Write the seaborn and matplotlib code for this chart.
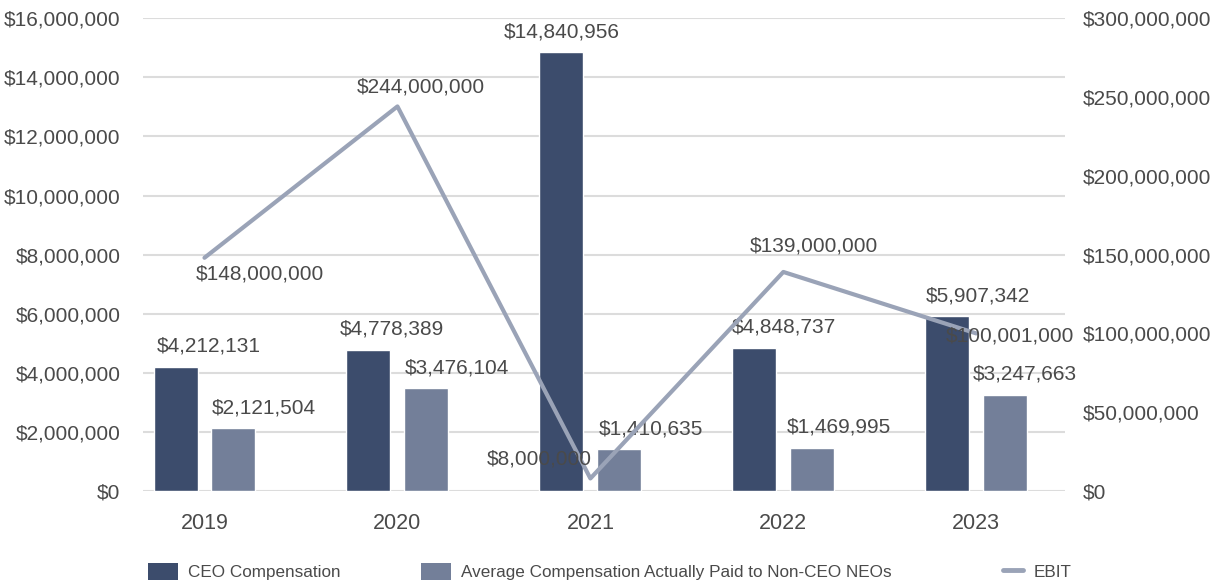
import matplotlib
matplotlib.use("Agg")
import matplotlib.pyplot as plt
import seaborn as sns
import pandas as pd
from matplotlib.patches import Patch
from matplotlib.lines import Line2D
from matplotlib.ticker import FuncFormatter

years = ["2019", "2020", "2021", "2022", "2023"]
ceo_comp = [4212131, 4778389, 14840956, 4848737, 5907342]
neo_comp = [2121504, 3476104, 1410635, 1469995, 3247663]
ebit = [148000000, 244000000, 8000000, 139000000, 100001000]
series_names = ["CEO Compensation", "Average Compensation Actually Paid to Non-CEO NEOs", "EBIT"]

c_ceo = "#3C4C6C"
c_neo = "#737F99"
c_line = "#9AA3B7"
txt = "#4a4a4a"
fs = 15

sns.set_theme(style="white")
plt.rcParams["font.family"] = ["Liberation Sans", "DejaVu Sans"]

df = pd.DataFrame({
    "year": years * 2,
    "value": ceo_comp + neo_comp,
    "series": [series_names[0]] * 5 + [series_names[1]] * 5,
})

fig = plt.figure(figsize=(12.2, 5.86), dpi=100)
ax = fig.add_axes([0.117, 0.162, 0.756, 0.807])
sns.barplot(data=df, x="year", y="value", hue="series", palette=[c_ceo, c_neo],
            width=0.6, gap=0.24, ax=ax, legend=False, saturation=1, errorbar=None)
ax.set_xlim(-0.32, 4.46)
ax.set_ylim(0, 16000000)
ax.set_yticks(range(0, 16000001, 2000000))
ax.yaxis.set_major_formatter(FuncFormatter(lambda v, p: f"${v:,.0f}"))
ax.grid(axis="y", color="#dcdcdc", linewidth=1.5)
ax.set_axisbelow(True)
for s in ax.spines.values():
    s.set_visible(False)
ax.tick_params(axis="both", length=0, labelsize=fs, colors=txt)
ax.tick_params(axis="y", pad=16)
ax.tick_params(axis="x", pad=16, labelsize=15.5)
ax.set_xlabel("")
ax.set_ylabel("")

ax2 = ax.twinx()
sns.lineplot(x=list(range(5)), y=ebit, ax=ax2, color=c_line, linewidth=3, legend=False)
ax2.set_ylim(0, 300000000)
ax2.set_yticks(range(0, 300000001, 50000000))
ax2.yaxis.set_major_formatter(FuncFormatter(lambda v, p: f"${v:,.0f}"))
for s in ax2.spines.values():
    s.set_visible(False)
ax2.tick_params(axis="y", length=0, labelsize=fs, colors=txt, pad=13)
ax2.grid(False)
ax2.set_xlim(-0.32, 4.46)

# bar labels
ceo_dx = [24, 17, 0, 21, 22]
neo_dx = [22, 22, 23, 19, 14]
for i in range(5):
    ax.annotate(f"${ceo_comp[i]:,}", (i - 0.15, ceo_comp[i]), xytext=(ceo_dx[i], 8),
                textcoords="offset points", ha="center", va="bottom", fontsize=fs, color=txt)
    ax.annotate(f"${neo_comp[i]:,}", (i + 0.15, neo_comp[i]), xytext=(neo_dx[i], 8),
                textcoords="offset points", ha="center", va="bottom", fontsize=fs, color=txt)

# line labels
ebit_off = [(40, -12), (17, 14), (-37, 14), (22, 19), (24, -2)]
for i in range(5):
    dx, dy = ebit_off[i]
    ax2.annotate(f"${ebit[i]:,}", (i, ebit[i]), xytext=(dx, dy), textcoords="offset points",
                 ha="center", va="center", fontsize=fs, color=txt)

# legends
h1 = [Patch(facecolor=c_ceo, edgecolor="none")]
h2 = [Patch(facecolor=c_neo, edgecolor="none")]
h3 = [Line2D([0], [0], color=c_line, linewidth=3.5)]
for h, name, xpos, hl in [(h1, series_names[0], 0.121, 1.75), (h2, series_names[1], 0.345, 1.75),
                          (h3, series_names[2], 0.822, 1.2)]:
    fig.legend(h, [name], loc="center left", bbox_to_anchor=(xpos, 0.024), frameon=False,
               fontsize=12.3, handlelength=hl, handleheight=1.1, borderpad=0, borderaxespad=0,
               handletextpad=0.6, labelcolor=txt)

fig.savefig("out.png", dpi=100)
